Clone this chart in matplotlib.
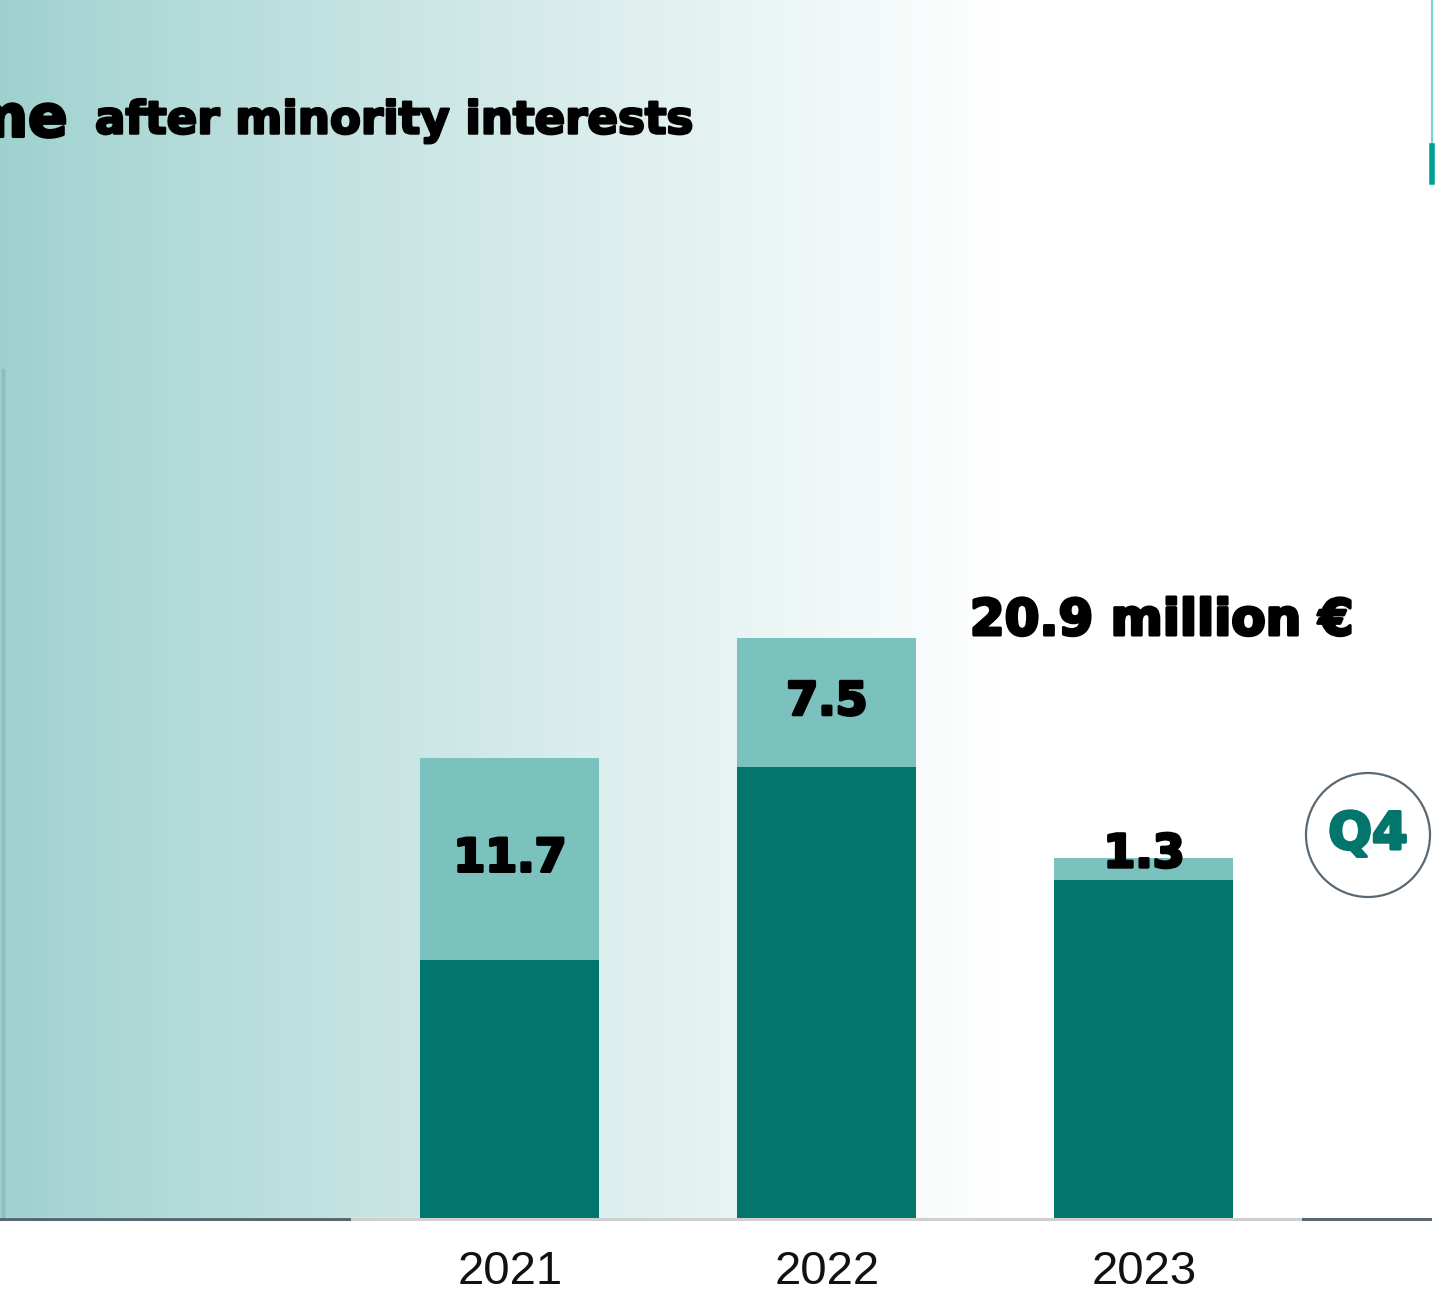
import matplotlib
matplotlib.use("Agg")
import matplotlib.pyplot as plt
import matplotlib.patheffects as pe
import numpy as np
from matplotlib.patches import Ellipse

# net income after minority interests, million EUR
years = ["2021", "2022", "2023"]
base_q = [15.0, 26.2, 19.6]      # dark part of each bar
q4_part = [11.7, 7.5, 1.3]       # light part (Q4 contribution)
total_label = "20.9 million €"

DARK = "#02756c"
LIGHT = "#7bc1bd"
GREY = "#5a6873"

W, H = 1435, 1296
fig = plt.figure(figsize=(W / 100, H / 100), dpi=100)
ax = fig.add_axes([0, 0, 1, 1])

# axis scales: 317 px between bars, ~17.2 px per million
step = 317.0
ppu = 17.22
x0_px, base_px = 510.0, 1218.0
ax.set_xlim(-x0_px / step, (W - x0_px) / step)
ax.set_ylim(-(H - base_px) / ppu, base_px / ppu)
ax.axis("off")

def px(xp, yp):
    # figure pixel (from top-left) -> data coords
    return (xp - x0_px) / step, (base_px - yp) / ppu

def heavy(color="black", w=2.2):
    # fake a black-weight face by stroking the bold glyphs
    return [pe.withStroke(linewidth=w, foreground=color)]

# horizontal teal -> white background
xs = np.linspace(0, 1, 600)
t = np.clip(xs * W / 1000.0, 0, 1)
t = t ** 0.9
c0 = np.array([0.62, 0.82, 0.81])
grad = c0[None, :] * (1 - t[:, None]) + np.ones(3)[None, :] * t[:, None]
xl, yl = ax.get_xlim(), ax.get_ylim()
ax.imshow(grad[None, :, :], extent=[xl[0], xl[1], yl[0], yl[1]],
          aspect="auto", zorder=0)
# white strip under the baseline
ax.axhspan(yl[0], 0, color="white", zorder=0.5)

# left edge line
ax.plot(*zip(px(3, 370), px(3, 1218)), color="#8bbfbc", lw=2.5, zorder=1)
# right edge marks
ax.plot(*zip(px(1432, 0), px(1432, 146)), color="#7fd3cc", lw=1.5, zorder=1)
ax.plot(*zip(px(1432, 146), px(1432, 182)), color="#00a096", lw=4, zorder=1)

x = np.arange(len(years))
bw = 179 / step
ax.bar(x, base_q, width=bw, color=DARK, zorder=2)
ax.bar(x, q4_part, bottom=base_q, width=bw, color=LIGHT, zorder=2)

# baseline
ax.plot(*zip(px(0, 1219), px(352, 1219)), color=GREY, lw=2.2, zorder=3)
ax.plot(*zip(px(352, 1219), px(1303, 1219)), color="#cfcfcf", lw=2.2, zorder=3)
ax.plot(*zip(px(1303, 1219), px(1430, 1219)), color=GREY, lw=2.2, zorder=3)

# values of the light segments
for i, (b, q) in enumerate(zip(base_q, q4_part)):
    y = b + q / 2 if q > 3 else b + q + 0.2
    ax.text(i, y, f"{q:.1f}", ha="center", va="center",
            fontsize=33, fontweight="bold", family="DejaVu Sans", zorder=4,
            path_effects=heavy())

# year labels
for i, yr in enumerate(years):
    ax.text(i, px(0, 1284)[1], yr, ha="center", va="baseline",
            fontsize=34, family="Liberation Sans", color="#111111")

# total for 2023
tx, ty = px(1162, 621)
ax.text(tx, ty, total_label, ha="center", va="center",
        fontsize=36, fontweight="bold", family="DejaVu Sans", zorder=4,
        path_effects=heavy())

# title (cut by the left edge)
hx, hy = px(68, 120)
ax.text(hx, hy, "Net income", ha="right", va="center",
        fontsize=42, fontweight="bold", family="DejaVu Sans",
        path_effects=heavy())
sx, sy = px(95, 121)
ax.text(sx, sy, "after minority interests", ha="left", va="center",
        fontsize=32.5, fontweight="bold", family="DejaVu Sans",
        path_effects=heavy(w=1.8))

# Q4 badge
cx, cy = px(1368, 835)
ax.add_patch(Ellipse((cx, cy), 124 / step, 124 / ppu, facecolor="white",
                     edgecolor=GREY, lw=1.6, zorder=4))
ax.text(cx, cy, "Q4", ha="center", va="center", fontsize=37,
        fontweight="bold", family="DejaVu Sans", color=DARK, zorder=5,
        path_effects=heavy(DARK))

fig.savefig("out.png", dpi=100)
